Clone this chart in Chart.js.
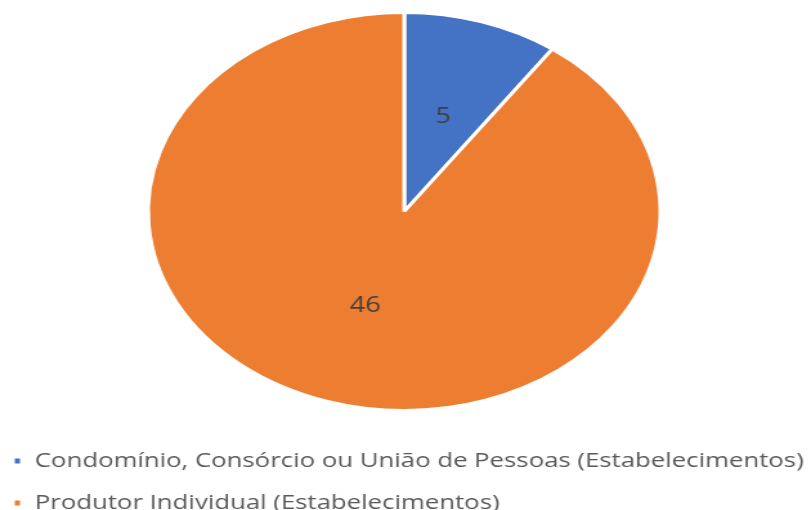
<!DOCTYPE html>
<html>
<head>
<meta charset="utf-8">
<script src="https://cdn.jsdelivr.net/npm/chart.js@4/dist/chart.umd.min.js"></script>
<style>
    html, body { margin: 0; padding: 0; background: #fff; overflow: hidden; }
    #wrap { width: 811px; height: 510px; position: relative; overflow: hidden; }
    /* drawn narrow, then widened to the page width */
    #pieChart { position: absolute; left: 0; top: -6px; transform: scaleX(1.2873); transform-origin: 0 0; }
</style>
</head>
<body>
<div id="wrap">
    <canvas id="pieChart" width="650" height="529"></canvas>
</div>
<script>
const categories = [
    'Condomínio, Consórcio ou União de Pessoas (Estabelecimentos)',
    'Produtor Individual (Estabelecimentos)'
];
const establishments = [5, 46];
const sliceColors = ['#4472C4', '#ED7D31'];

// value labels in the middle of each slice
const sliceLabels = {
    id: 'sliceLabels',
    afterDatasetsDraw(chart) {
        const ctx = chart.ctx;
        const meta = chart.getDatasetMeta(0);
        ctx.save();
        ctx.font = '21px "Open Sans", sans-serif';
        ctx.fillStyle = '#404040';
        ctx.textAlign = 'center';
        ctx.textBaseline = 'middle';
        meta.data.forEach((arc, i) => {
            const pos = arc.tooltipPosition();
            ctx.fillText(String(establishments[i]), pos.x, pos.y);
        });
        ctx.restore();
    }
};

new Chart(document.getElementById('pieChart'), {
    type: 'pie',
    data: {
        labels: categories,
        datasets: [{
            data: establishments,
            backgroundColor: sliceColors,
            borderColor: '#ffffff',
            borderWidth: 3,
            radius: 199
        }]
    },
    options: {
        responsive: false,
        animation: false,
        layout: { padding: { top: 0, bottom: 0, left: -12, right: 22 } },
        plugins: {
            tooltip: { enabled: false },
            legend: {
                position: 'bottom',
                align: 'start',
                labels: {
                    boxWidth: 7,
                    boxHeight: 8,
                    padding: 22,
                    color: '#595959',
                    font: { family: '"Open Sans", sans-serif', size: 20 }
                }
            }
        }
    },
    plugins: [sliceLabels]
});
</script>
</body>
</html>
